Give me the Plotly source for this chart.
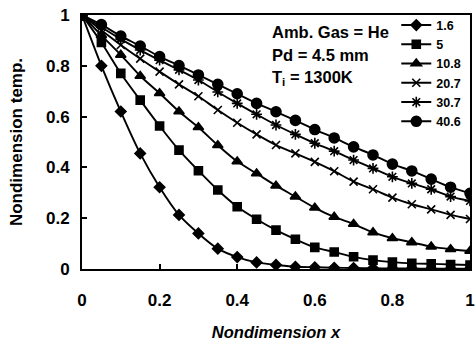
import plotly.graph_objects as go

x_vals = [round(0.05 * i, 2) for i in range(21)]

series_names = ["1.6", "5", "10.8", "20.7", "30.7", "40.6"]

y_1_6 = [1, 0.80, 0.62, 0.455, 0.322, 0.213, 0.14, 0.08, 0.047, 0.026, 0.016,
         0.009, 0.007, 0.005, 0.004, 0.003, 0.002, 0.002, 0.001, 0.001, 0.001]
y_5 = [1, 0.892, 0.77, 0.665, 0.563, 0.468, 0.387, 0.311, 0.245, 0.196, 0.153,
       0.117, 0.085, 0.067, 0.048, 0.035, 0.027, 0.022, 0.02, 0.018, 0.016]
y_10_8 = [1, 0.92, 0.843, 0.76, 0.692, 0.62, 0.558, 0.487, 0.423, 0.376, 0.328,
          0.285, 0.241, 0.205, 0.177, 0.144, 0.121, 0.105, 0.088, 0.078, 0.071]
y_20_7 = [1, 0.94, 0.882, 0.828, 0.777, 0.727, 0.68, 0.626, 0.576, 0.53, 0.488,
          0.455, 0.422, 0.385, 0.344, 0.314, 0.281, 0.255, 0.235, 0.213, 0.197]
y_30_7 = [1, 0.952, 0.905, 0.862, 0.822, 0.784, 0.744, 0.697, 0.652, 0.609, 0.567,
          0.53, 0.495, 0.464, 0.429, 0.396, 0.363, 0.337, 0.314, 0.285, 0.268]
y_40_6 = [1, 0.962, 0.917, 0.878, 0.836, 0.801, 0.764, 0.727, 0.69, 0.652, 0.619,
          0.585, 0.549, 0.516, 0.481, 0.449, 0.413, 0.386, 0.354, 0.322, 0.298]

x_ticks = [0, 0.2, 0.4, 0.6, 0.8, 1]
x_tick_labels = ["0", "0.2", "0.4", "0.6", "0.8", "1"]
y_ticks = [0, 0.2, 0.4, 0.6, 0.8, 1]
y_tick_labels = ["0", "0.2", "0.4", "0.6", "0.8", "1"]

all_y = [y_1_6, y_5, y_10_8, y_20_7, y_30_7, y_40_6]
symbols = ["diamond", "square", "triangle-up", "x-thin-open", "asterisk-open", "circle"]
sizes = [8, 8, 9, 8, 9, 10]

FONT = "Liberation Sans, Arial, sans-serif"

fig = go.Figure()
for name, ys, sym, sz in zip(series_names, all_y, symbols, sizes):
    fig.add_trace(go.Scatter(
        x=x_vals, y=ys, name=name, mode="lines+markers",
        line=dict(color="black", width=1.9, shape="spline", smoothing=0.6),
        marker=dict(symbol=sym, size=sz, color="black",
                    line=dict(color="black", width=1.6)),
    ))

axis_common = dict(
    showgrid=False, zeroline=False, showline=True, mirror=True,
    linecolor="black", linewidth=2, ticks="inside", ticklen=5,
    tickcolor="black", tickwidth=1.5, automargin=False,
    tickfont=dict(family=FONT, size=17, color="black", weight="bold"),
)

fig.update_xaxes(range=[0, 1], tickvals=x_ticks, ticktext=x_tick_labels,
                 ticklabelstandoff=15,
                 title=dict(text="<i>Nondimension x</i>", standoff=17,
                            font=dict(family=FONT, size=16.5, color="black", weight="bold")),
                 **axis_common)
fig.update_yaxes(range=[0, 1], tickvals=y_ticks, ticktext=y_tick_labels,
                 ticklabelstandoff=7,
                 title=dict(text="Nondimension temp.", standoff=19,
                            font=dict(family=FONT, size=17, color="black", weight="bold")),
                 **axis_common)

ann_font = dict(family=FONT, size=16.5, color="black", weight="bold")
for txt, yy in [("Amb. Gas = He", 0.933), ("Pd = 4.5 mm", 0.843), ("T<sub>i</sub> = 1300K", 0.752)]:
    fig.add_annotation(text=txt, xref="paper", yref="paper", x=0.485, y=yy,
                       xanchor="left", yanchor="middle", showarrow=False, font=ann_font)

fig.update_layout(
    width=476, height=347,
    margin=dict(l=82, r=6, t=15, b=78),
    paper_bgcolor="white", plot_bgcolor="white",
    legend=dict(x=0.81, y=0.77, xanchor="left", yanchor="middle",
                bgcolor="rgba(0,0,0,0)", itemwidth=30, tracegroupgap=0,
                font=dict(family=FONT, size=12.5, color="black", weight="bold")),
)

fig.write_html("out.html", config={"displayModeBar": False},
               post_script="document.body.style.margin='0';document.body.style.padding='0';")
